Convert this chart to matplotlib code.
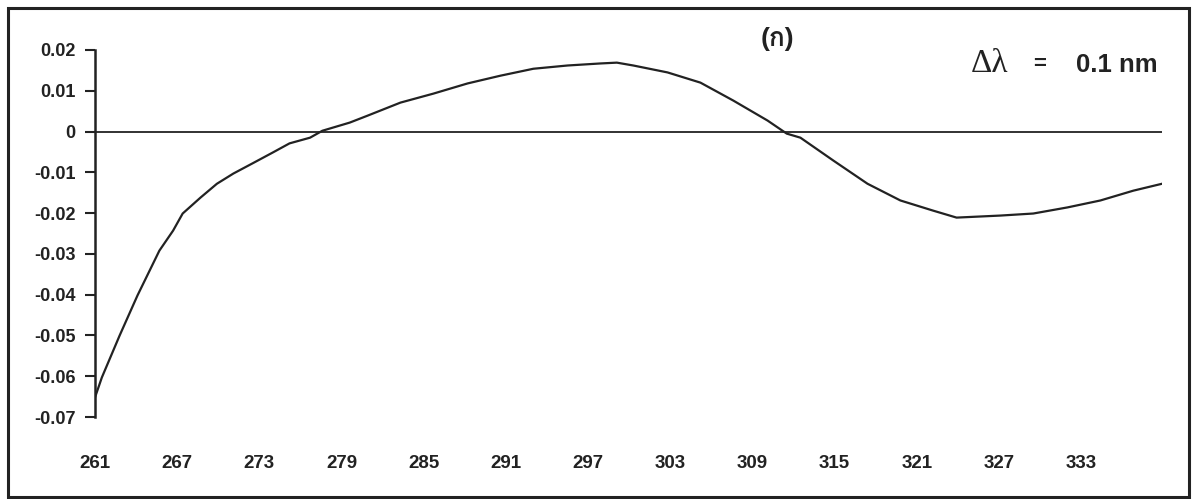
import matplotlib
matplotlib.use("Agg")
import matplotlib.pyplot as plt
from matplotlib import font_manager
from matplotlib.ft2font import FT2Font
from matplotlib.patches import Rectangle

# wavelength (nm) and derivative values
wavelength = [261.0, 261.5, 262.8, 264.1, 265.7, 266.7, 267.4, 268.7, 269.9, 271.1,
              272.5, 274.0, 275.2, 276.7, 277.6, 279.6, 280.9, 283.3, 285.7, 288.2,
              290.6, 293.0, 295.5, 297.9, 299.1, 300.3, 302.8, 305.2, 307.6, 310.1,
              311.5, 312.5, 314.9, 317.4, 319.8, 322.2, 323.9, 327.1, 329.5, 332.0,
              334.4, 336.8, 338.9]
signal = [-0.0652, -0.0603, -0.0500, -0.0402, -0.0292, -0.0243, -0.0201, -0.0162, -0.0128, -0.0103,
          -0.0078, -0.0051, -0.0029, -0.0015, 0.0002, 0.0022, 0.0039, 0.0071, 0.0093, 0.0118,
          0.0137, 0.0154, 0.0162, 0.0167, 0.0169, 0.0162, 0.0145, 0.0120, 0.0076, 0.0027,
          -0.0005, -0.0015, -0.0071, -0.0128, -0.0169, -0.0194, -0.0211, -0.0206, -0.0201, -0.0186,
          -0.0169, -0.0145, -0.0128]

x_ticks = [261, 267, 273, 279, 285, 291, 297, 303, 309, 315, 321, 327, 333]
y_ticks = [0.02, 0.01, 0, -0.01, -0.02, -0.03, -0.04, -0.05, -0.06, -0.07]
y_labels = ["0.02", "0.01", "0", "-0.01", "-0.02", "-0.03", "-0.04", "-0.05", "-0.06", "-0.07"]


def families_with_char(ch):
    """Installed font families that have a glyph for ch"""
    found = []
    for f in font_manager.fontManager.ttflist:
        if f.name in found:
            continue
        try:
            if ord(ch) in FT2Font(f.fname).get_charmap():
                found.append(f.name)
        except Exception:
            pass
    return found


ink = "#222222"
thai = families_with_char("ก")
plt.rcParams["font.family"] = ["Liberation Sans"] + thai[:1] + ["DejaVu Sans"]

fig = plt.figure(figsize=(11.95, 4.99), dpi=100)
ax = fig.add_axes([0.0795, 0.1643, 0.9724 - 0.0795, 0.7355])

ax.plot(wavelength, signal, color=ink, linewidth=1.6)
ax.plot([wavelength[0], wavelength[-1]], [0, 0], color=ink, linewidth=1.3)

ax.set_xlim(261, wavelength[-1])
ax.set_ylim(-0.07, 0.02)

ax.set_yticks(y_ticks)
ax.set_yticklabels(y_labels, fontsize=13, fontweight="bold", color=ink)
ax.set_xticks(x_ticks)
ax.set_xticklabels([str(t) for t in x_ticks], fontsize=13.5, fontweight="bold", color=ink)

ax.tick_params(axis="y", direction="out", length=7, width=1.5, pad=7, color=ink)
ax.tick_params(axis="x", length=0, pad=27)

for side in ["top", "right", "bottom"]:
    ax.spines[side].set_visible(False)
ax.spines["left"].set_linewidth(1.8)
ax.spines["left"].set_color(ink)

# labels in the upper right
fig.text(777 / 1195, 1 - 39 / 499, "(ก)", fontsize=19, fontweight="bold", color=ink,
         ha="center", va="center")
fig.text(971 / 1195, 1 - 64 / 499, "Δλ", fontsize=24, family="Liberation Serif",
         color=ink, ha="left", va="center")
fig.text(1040 / 1195, 1 - 65 / 499, "=", fontsize=16, fontweight="bold",
         color=ink, ha="center", va="center")
fig.text(1076 / 1195, 1 - 65 / 499, "0.1 nm", fontsize=18.5, fontweight="bold",
         color=ink, ha="left", va="center")

# frame around the whole figure
fig.add_artist(Rectangle((8 / 1195, 2 / 499), 1181 / 1195, 489 / 499,
                         transform=fig.transFigure, fill=False,
                         edgecolor=ink, linewidth=2.2))

fig.savefig("out.png", dpi=100)
